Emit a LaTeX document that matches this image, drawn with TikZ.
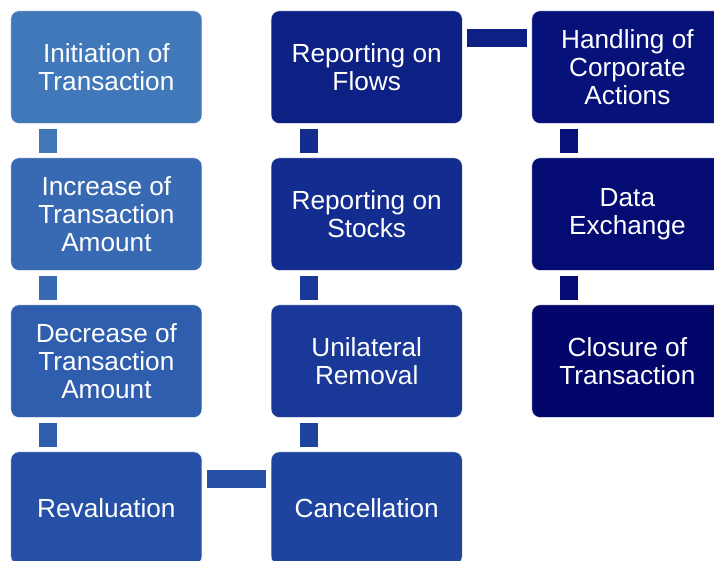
\documentclass[tikz,border=0pt]{standalone}
\usepackage{fontspec}
\setmainfont{Liberation Sans}
\definecolor{c1}{HTML}{4078B9}
\definecolor{c2}{HTML}{3869B3}
\definecolor{c3}{HTML}{2F5EAE}
\definecolor{c4}{HTML}{2550A6}
\definecolor{c5}{HTML}{1F44A0}
\definecolor{c6}{HTML}{1A3897}
\definecolor{c7}{HTML}{132C8F}
\definecolor{c8}{HTML}{0D2185}
\definecolor{c9}{HTML}{07117A}
\definecolor{c10}{HTML}{040B72}
\definecolor{c11}{HTML}{02056A}
\tikzset{
  box/.style={rectangle, rounded corners=8pt, minimum width=191pt, minimum height=112.5pt,
    text=white, align=center, font=\fontsize{26.2pt}{27.8pt}\selectfont,
    draw=white!75!black!20, line width=0.4pt, inner sep=0pt, anchor=north west},
  link/.style={line width=18pt, shorten <=5pt, shorten >=5pt}
}
\begin{document}
\begin{tikzpicture}[x=1pt,y=-1pt]
\useasboundingbox (0,0) rectangle (714,560);
\node[box, fill=c1] (n1) at (10.7,10.7) {Initiation of\\Transaction};
\node[box, fill=c2] (n2) at (10.7,157.7) {Increase of\\Transaction\\Amount};
\node[box, fill=c3] (n3) at (10.7,304.7) {Decrease of\\Transaction\\Amount};
\node[box, fill=c4] (n4) at (10.7,451.7) {Revaluation};
\node[box, fill=c5] (n5) at (271,451.7) {Cancellation};
\node[box, fill=c6] (n6) at (271,304.7) {Unilateral\\Removal};
\node[box, fill=c7] (n7) at (271,157.7) {Reporting on\\Stocks};
\node[box, fill=c8] (n8) at (271,10.7) {Reporting on\\Flows};
\node[box, fill=c9] (n9) at (531.7,10.7) {Handling of\\Corporate\\Actions};
\node[box, fill=c10] (n10) at (531.7,157.7) {Data\\Exchange};
\node[box, fill=c11] (n11) at (531.7,304.7) {Closure of\\Transaction};
\draw[link, c1] ([xshift=37.3pt]n1.south west) -- ([xshift=37.3pt]n2.north west);
\draw[link, c2] ([xshift=37.3pt]n2.south west) -- ([xshift=37.3pt]n3.north west);
\draw[link, c3] ([xshift=37.3pt]n3.south west) -- ([xshift=37.3pt]n4.north west);
\draw[link, c4] ([yshift=-27.3pt]n4.north east) -- ([yshift=-27.3pt]n5.north west);
\draw[link, c5] ([xshift=38pt]n5.north west) -- ([xshift=38pt]n6.south west);
\draw[link, c6] ([xshift=38pt]n6.north west) -- ([xshift=38pt]n7.south west);
\draw[link, c7] ([xshift=38pt]n7.north west) -- ([xshift=38pt]n8.south west);
\draw[link, c8] ([yshift=-27.3pt]n8.north east) -- ([yshift=-27.3pt]n9.north west);
\draw[link, c9] ([xshift=37.3pt]n9.south west) -- ([xshift=37.3pt]n10.north west);
\draw[link, c10] ([xshift=37.3pt]n10.south west) -- ([xshift=37.3pt]n11.north west);
\end{tikzpicture}
\end{document}
